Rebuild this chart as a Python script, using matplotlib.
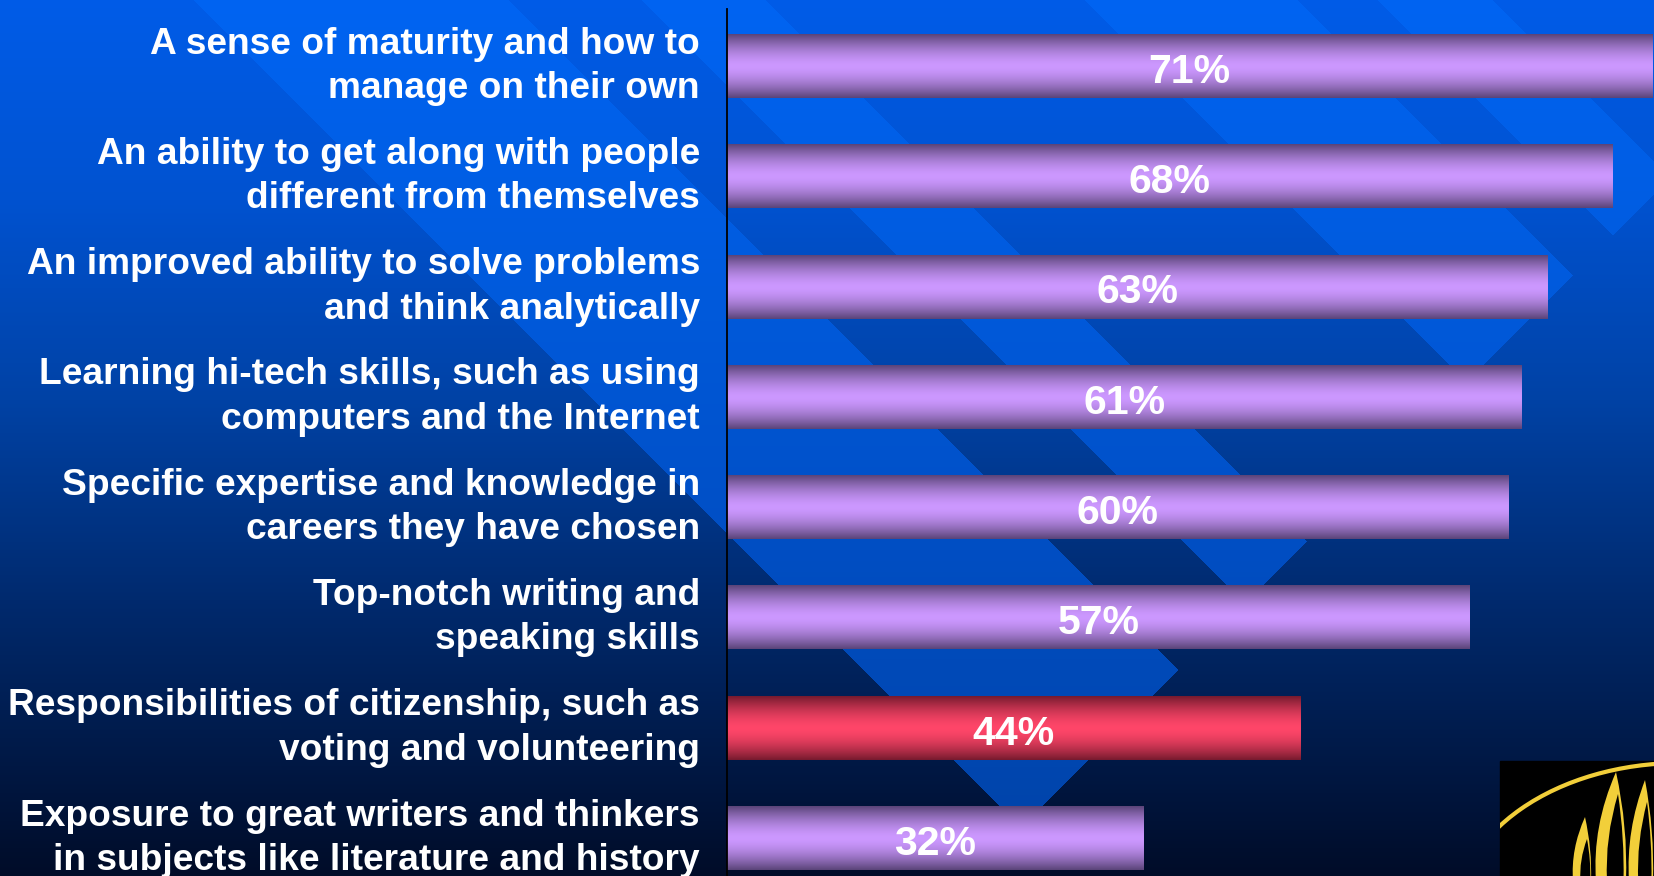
import matplotlib.pyplot as plt
from matplotlib.patches import Rectangle, Arc, PathPatch
from matplotlib.path import Path
from matplotlib.transforms import ScaledTranslation
import numpy as np

plt.rcParams['font.family'] = ['Liberation Sans', 'DejaVu Sans']
plt.rcParams['font.weight'] = 'bold'

#################DATA#######################
categories = [
    'A sense of maturity and how to\nmanage on their own',
    'An ability to get along with people\ndifferent from themselves',
    'An improved ability to solve problems\nand think analytically',
    'Learning hi-tech skills, such as using\ncomputers and the Internet',
    'Specific expertise and knowledge in\ncareers they have chosen',
    'Top-notch writing and\nspeaking skills',
    'Responsibilities of citizenship, such as\nvoting and volunteering',
    'Exposure to great writers and thinkers\nin subjects like literature and history',
]
values = [71, 68, 63, 61, 60, 57, 44, 32]
highlight = 6

W, H = 1654, 876
fig = plt.figure(figsize=(W / 100, H / 100), dpi=100)

######Background: blue fade with a striped V########
yy, xx = np.mgrid[0:H, 0:W] + 0.5

def ramp(y, stops):
    ys = [s[0] for s in stops]
    return np.stack([np.interp(y, ys, [s[1][k] for s in stops]) for k in range(3)], axis=-1) / 255

bg = ramp(yy, [(0, (0, 92, 232)), (200, (0, 82, 208)), (400, (0, 66, 165)),
               (600, (0, 42, 110)), (876, (0, 12, 40))])
light = ramp(yy, [(0, (0, 100, 242)), (300, (0, 90, 220)), (550, (0, 78, 195)),
                  (876, (0, 66, 165))])
c = xx - yy
inside_v = (xx + yy <= 1848) & (c >= 194)
stripes = [(194, 509), (642, 766), (1085, 1298), (1378, 1493)]
mask = np.zeros_like(c, dtype=bool)
for lo, hi in stripes:
    mask |= (c >= lo) & (c < hi)
mask &= inside_v
bg[mask] = light[mask]

bg_ax = fig.add_axes([0, 0, 1, 1], zorder=0)
bg_ax.imshow(bg, extent=[0, W, H, 0], aspect='auto', interpolation='nearest')
bg_ax.set_xlim(0, W)
bg_ax.set_ylim(H, 0)
bg_ax.axis('off')

######Bar chart############
ax = fig.add_axes([727 / W, 0, (W - 727) / W, (H - 9) / H], zorder=1)
ax.patch.set_alpha(0)

def tube(light_rgb, dark_rgb, n=200):
    t = np.linspace(0, 1, n)
    d = np.abs(t - 0.5) * 2
    w = d ** 1.6
    lc = np.array(light_rgb) / 255
    dc = np.array(dark_rgb) / 255
    col = lc[None, :] * (1 - w[:, None]) + dc[None, :] * w[:, None]
    return col[:, None, :]

purple = tube((204, 152, 255), (90, 68, 120))
red = tube((255, 70, 105), (118, 26, 46))

pos = np.arange(len(values))
bars = ax.barh(pos, values, height=0.58, color='none', edgecolor='none')
for i, (bar, val) in enumerate(zip(bars, values)):
    x0, y0 = bar.get_xy()
    grad = red if i == highlight else purple
    im = ax.imshow(grad, extent=(x0, x0 + bar.get_width(), y0 + bar.get_height(), y0),
                   aspect='auto', zorder=2, interpolation='bilinear')
    im.set_clip_path(bar)
    ax.text(val / 2, i + 0.152, f'{val}%', ha='center', va='baseline', color='white',
            fontsize=29.5, fontweight='bold', zorder=3)

# category names, right-aligned just left of the axis line
label_trans = ax.get_yaxis_transform() + ScaledTranslation(-27 / 100, 0, fig.dpi_scale_trans)
for i, name in enumerate(categories):
    ax.text(0, i + 0.29, name, transform=label_trans, ha='right', va='baseline',
            multialignment='right', linespacing=1.35, color='white',
            fontsize=26.75, fontweight='bold', clip_on=False)

ax.set_xlim(0, 71.15)
ax.set_ylim(7.344, -0.517)
ax.set_yticks([])
ax.set_xticks([])
for side in ['top', 'right', 'bottom']:
    ax.spines[side].set_visible(False)
ax.spines['left'].set_color('black')
ax.spines['left'].set_linewidth(1.3)

######Corner logo############
logo = fig.add_axes([0, 0, 1, 1], zorder=2)
logo.set_xlim(0, W)
logo.set_ylim(H, 0)
logo.axis('off')
logo.add_patch(Rectangle((1500, 761), W - 1500, H - 761, color='black'))
ring = Arc((1680, 920), 450, 314, theta1=180, theta2=360, color='#f2cf3a', lw=3)
logo.add_patch(ring)
ring.set_clip_path(Rectangle((1500, 761), W - 1500, H - 761, transform=logo.transData))

def flame(x, base, tip, half):
    verts = [(x - half, base), (x - half * 1.2, base - (base - tip) * 0.5), (x, tip),
             (x + half * 0.6, base - (base - tip) * 0.5), (x + half * 0.5, base),
             (x, base)]
    codes = [Path.MOVETO, Path.CURVE3, Path.CURVE3, Path.CURVE3, Path.CURVE3, Path.CLOSEPOLY]
    return Path(verts, codes)

for x, tip, half in [(1585, 817, 12), (1616, 772, 20), (1645, 780, 16)]:
    logo.add_patch(PathPatch(flame(x, H + 5, tip, half), facecolor='#f2cf3a', edgecolor='none'))
    logo.add_patch(PathPatch(flame(x + 2, H + 5, tip + 22, half * 0.55),
                             facecolor='black', edgecolor='none'))

fig.savefig('out.png', dpi=100)
